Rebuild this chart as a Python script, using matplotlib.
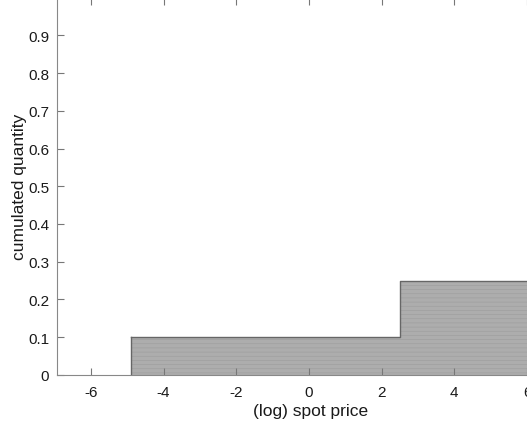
import matplotlib.pyplot as plt
import numpy as np

plt.rcParams['font.family'] = ['Liberation Sans', 'DejaVu Sans']
plt.rcParams['axes.unicode_minus'] = False
plt.rcParams['hatch.color'] = '#9c9c9c'
plt.rcParams['hatch.linewidth'] = 0.4

# step function of cumulated quantity over (log) spot price
price = [-4.9, 2.5, 7.5]
quantity = [0.1, 0.25, 0.25]

xticks = [-6, -4, -2, 0, 2, 4, 6]
yticks = [0, 0.1, 0.2, 0.3, 0.4, 0.5, 0.6, 0.7, 0.8, 0.9]
yticklabels = ['0', '0.1', '0.2', '0.3', '0.4', '0.5', '0.6', '0.7', '0.8', '0.9']

fig = plt.figure(figsize=(5.27, 4.31), dpi=100)
ax = fig.add_axes([0.109, 0.128, 0.96, 0.875])

ax.fill_between(price, quantity, step='post', facecolor='#adadad',
                edgecolor='#9c9c9c', hatch='----', linewidth=0)
ax.step(price, quantity, where='post', color='#666666', lw=1.0)
ax.plot([price[0], price[0]], [0, quantity[0]], color='#666666', lw=1.0)

ax.set_xlim(-6.92, 7.0)
ax.set_ylim(0, 1.0)
ax.set_xticks(xticks)
ax.set_yticks(yticks)
ax.set_yticklabels(yticklabels)

for s in ax.spines.values():
    s.set_color('#888888')
ax.spines['right'].set_visible(False)
ax.tick_params(direction='in', top=True, right=False, color='#777777',
               labelsize=11, length=5, labelcolor='#1a1a1a')
ax.tick_params(axis='y', pad=6)
ax.tick_params(axis='x', pad=7)

ax.set_xlabel('(log) spot price', fontsize=12.5, labelpad=3, color='#1a1a1a')
ax.set_ylabel('cumulated quantity', fontsize=12.5, labelpad=1, color='#1a1a1a')

plt.savefig('out.png', dpi=100)
